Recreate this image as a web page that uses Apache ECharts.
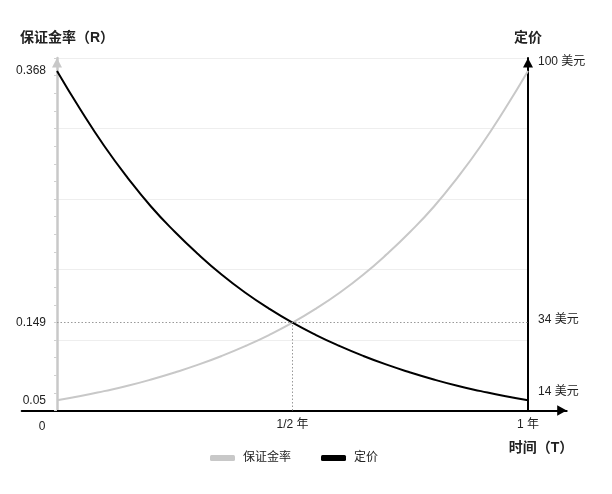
<!DOCTYPE html>
<html lang="zh-CN">
<head>
    <meta charset="UTF-8">
    <title>保证金率与定价</title>
    <style>
        body { margin: 0; padding: 0; background: #fff; }
        #chart { width: 612px; height: 494px; }
    </style>
</head>
<body>
    <div id="chart"></div>
    <script src="https://cdn.jsdelivr.net/npm/echarts@6.0.0/dist/echarts.min.js"></script>
    <script>
        // 时间（年），0 到 1
        const timeValues = [0, 0.05, 0.1, 0.15, 0.2, 0.25, 0.3, 0.35, 0.4, 0.45, 0.5,
                            0.55, 0.6, 0.65, 0.7, 0.75, 0.8, 0.85, 0.9, 0.95, 1];
        // 曲线高度（相对刻度 0-100，读自原图）
        const marginRate = [2.9, 4.1, 5.5, 7.0, 8.8, 10.8, 13.0, 15.5, 18.3, 21.4, 24.9,
                            28.9, 33.4, 38.5, 44.3, 50.7, 57.8, 66.0, 75.1, 85.3, 96.3];
        const price = [96.3, 85.3, 75.1, 66.0, 57.8, 50.7, 44.3, 38.5, 33.4, 28.9, 24.9,
                       21.4, 18.3, 15.5, 13.0, 10.8, 8.8, 7.0, 5.5, 4.1, 2.9];

        // 刻度标签
        const xTickValues = [0, 0.5, 1];
        const xTickLabels = ['0', '1/2 年', '1 年'];
        const leftTickValues = [2.9, 24.9, 96.3];
        const leftTickLabels = ['0.05', '0.149', '0.368'];
        const rightTickValues = [5.3, 25.7, 98.9];
        const rightTickLabels = ['14 美元', '34 美元', '100 美元'];
        const crossPoint = [0.5, 24.9];

        const font = '"Liberation Sans", "Noto Sans CJK SC", sans-serif';
        const pick = (vals, labels) => v => {
            const i = vals.findIndex(x => Math.abs(x - v) < 1e-6);
            return i < 0 ? '' : labels[i];
        };

        const chart = echarts.init(document.getElementById('chart'));
        const option = {
            backgroundColor: '#fff',
            textStyle: { fontFamily: font },
            grid: [
                { left: 57, right: 84, top: 58, bottom: 83.5 },
                { left: 21.7, right: 45.3, top: 58, bottom: 83.5 }
            ],
            legend: {
                left: 205,
                top: 447,
                itemWidth: 25,
                itemHeight: 6,
                itemGap: 30,
                icon: 'roundRect',
                textStyle: { fontSize: 12, color: '#222', padding: [0, 0, 0, 3] },
                data: ['保证金率', '定价']
            },
            xAxis: [
                {
                    type: 'value',
                    gridIndex: 0,
                    min: 0,
                    max: 1,
                    name: '时间（T）',
                    nameLocation: 'end',
                    nameGap: 0,
                    nameTextStyle: {
                        fontSize: 14, fontWeight: 'bold', color: '#222',
                        align: 'center', verticalAlign: 'top', padding: [31, 0, 0, 26]
                    },
                    axisLine: { show: false },
                    axisTick: { show: false },
                    splitLine: { show: false },
                    axisLabel: {
                        customValues: xTickValues,
                        margin: 8,
                        fontSize: 12,
                        color: '#222',
                        formatter: v => {
                            const s = pick(xTickValues, xTickLabels)(v);
                            return v === 0 ? '{z|' + s + '}' : s;
                        },
                        rich: { z: { fontSize: 12, color: '#222', padding: [2, 30, 0, 0] } }
                    }
                },
                {
                    type: 'value',
                    gridIndex: 1,
                    min: 0,
                    max: 1,
                    axisLine: {
                        show: true,
                        symbol: ['none', 'triangle'],
                        symbolSize: [10.5, 9.5],
                        symbolOffset: [0, -4.75],
                        lineStyle: { color: '#000', width: 2 }
                    },
                    axisTick: { show: false },
                    axisLabel: { show: false },
                    splitLine: { show: false }
                }
            ],
            yAxis: [
                {
                    type: 'value',
                    gridIndex: 0,
                    position: 'left',
                    min: 0,
                    max: 100,
                    interval: 20,
                    name: '保证金率（R）',
                    nameLocation: 'end',
                    nameGap: 13,
                    nameTextStyle: {
                        fontSize: 14, fontWeight: 'bold', color: '#222',
                        align: 'center', padding: [0, 0, 0, 20]
                    },
                    axisLine: {
                        show: true,
                        symbol: ['none', 'triangle'],
                        symbolSize: [10, 9.5],
                        symbolOffset: [0, -4.75],
                        lineStyle: { color: '#c8c8c8', width: 2.5 }
                    },
                    axisTick: { show: true, length: 3, lineStyle: { color: '#d0d0d0' } },
                    minorTick: { show: true, splitNumber: 4, length: 3, lineStyle: { color: '#d0d0d0' } },
                    splitLine: { show: true, lineStyle: { color: '#eeeeee', width: 1 } },
                    axisLabel: {
                        customValues: leftTickValues,
                        margin: 11,
                        fontSize: 12,
                        color: '#222',
                        formatter: pick(leftTickValues, leftTickLabels)
                    }
                },
                {
                    type: 'value',
                    gridIndex: 0,
                    position: 'right',
                    min: 0,
                    max: 100,
                    interval: 20,
                    name: '定价',
                    nameLocation: 'end',
                    nameGap: 13,
                    nameTextStyle: { fontSize: 14, fontWeight: 'bold', color: '#222', align: 'center' },
                    axisLine: {
                        show: true,
                        symbol: ['none', 'triangle'],
                        symbolSize: [10, 9.5],
                        symbolOffset: [0, -4.75],
                        lineStyle: { color: '#000', width: 2 }
                    },
                    axisTick: { show: false },
                    splitLine: { show: false },
                    axisLabel: {
                        customValues: rightTickValues,
                        margin: 10,
                        fontSize: 12,
                        color: '#222',
                        formatter: pick(rightTickValues, rightTickLabels)
                    }
                },
                {
                    type: 'value',
                    gridIndex: 1,
                    min: 0,
                    max: 100,
                    show: false
                }
            ],
            series: [
                {
                    name: '保证金率',
                    type: 'line',
                    xAxisIndex: 0,
                    yAxisIndex: 0,
                    smooth: true,
                    showSymbol: false,
                    color: '#c8c8c8',
                    lineStyle: { color: '#c8c8c8', width: 2 },
                    data: timeValues.map((t, i) => [t, marginRate[i]]),
                    markLine: {
                        silent: true,
                        symbol: 'none',
                        label: { show: false },
                        lineStyle: { color: '#999', width: 1, type: [1.5, 2] },
                        data: [
                            { yAxis: crossPoint[1] },
                            [{ coord: [crossPoint[0], 0] }, { coord: crossPoint }]
                        ]
                    }
                },
                {
                    name: '定价',
                    type: 'line',
                    xAxisIndex: 0,
                    yAxisIndex: 0,
                    smooth: true,
                    showSymbol: false,
                    color: '#000',
                    lineStyle: { color: '#000', width: 2 },
                    data: timeValues.map((t, i) => [t, price[i]])
                }
            ]
        };
        chart.setOption(option);
    </script>
</body>
</html>
